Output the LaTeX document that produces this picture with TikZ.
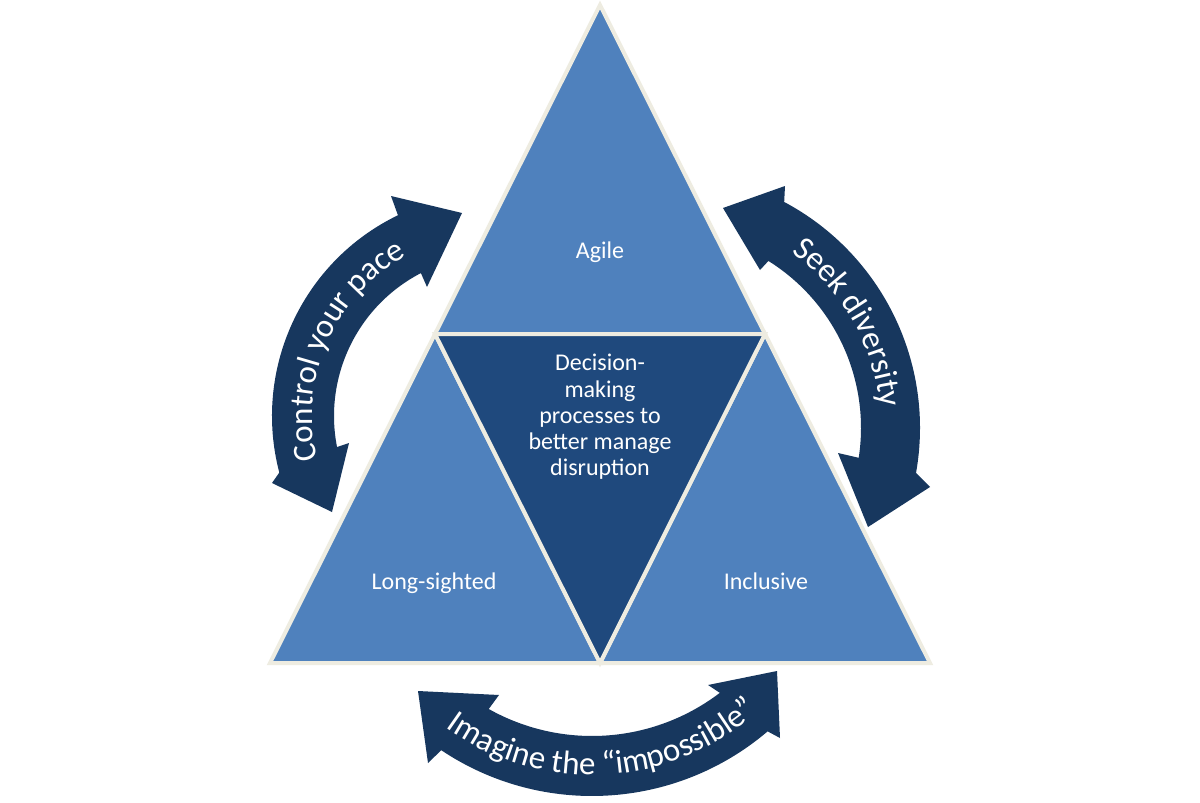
\documentclass[tikz,border=0pt]{standalone}
\usepackage{fontspec}
\setmainfont{Carlito}
\usetikzlibrary{decorations.text}
\definecolor{lightblue}{HTML}{4F81BD}
\definecolor{darkblue}{HTML}{1F497D}
\definecolor{arrowblue}{HTML}{17375E}
\definecolor{cream}{HTML}{EEECE1}
\newcommand\arrowfont{\fontsize{33}{33}\selectfont}
\begin{document}
\begin{tikzpicture}[x=1pt,y=-1pt,
  tri/.style={draw=cream, line width=4pt, line join=miter},
  lbl/.style={text=white, font=\fontsize{24}{26.3}\selectfont, align=center, inner sep=0pt},
  arr/.style={fill=arrowblue},
  arrtext/.style={decorate, decoration={text along path, text align=center, text color=white, text={|\arrowfont|#1}}}]
\useasboundingbox (0,0) rectangle (1200,803);
\fill[white] (0,0) rectangle (1200,803);
% triangle corners
\coordinate (A) at (600,5);
\coordinate (L) at (270,663);
\coordinate (R) at (930,663);
\coordinate (ML) at (435,334);
\coordinate (MR) at (765,334);
\coordinate (MB) at (600,663);
\filldraw[tri, fill=lightblue] (A) -- (ML) -- (MR) -- cycle;
\filldraw[tri, fill=lightblue] (ML) -- (L) -- (MB) -- cycle;
\filldraw[tri, fill=lightblue] (MR) -- (MB) -- (R) -- cycle;
\filldraw[tri, fill=darkblue] (ML) -- (MR) -- (MB) -- cycle;
% labels
\node[lbl, anchor=base] (agile) at (600,258) {Agile};
\node[lbl, anchor=base] (longs) at (434,589) {Long-sighted};
\node[lbl, anchor=base] (incl) at (766,589) {Inclusive};
\node[lbl] (core) at (600,417) {Decision-\\making\\processes to\\better manage\\disruption};
% left arrow
\fill[arr] (462,213) -- (391,196) -- ([shift={(495,416)}]244.2:223)
  arc[start angle=244.2, end angle=165.3, radius=223] -- (272,483) -- (332,512) -- (349,443)
  -- ([shift={(495,416)}]168.9:161) arc[start angle=168.9, end angle=242.6, radius=161] -- (427,287) -- cycle;
\path[arrtext={Control your pace}] ([shift={(495,416)}]153.7:183) arc[start angle=153.7, end angle=253.7, radius=183];
% right arrow
\fill[arr] (723,208) -- (785,186) -- ([shift={(664,428)}]-62:256)
  arc[start angle=-62, end angle=10.1, radius=256] -- (930,487) -- (868,527) -- (838,453)
  -- ([shift={(664,428)}]8.7:197) arc[start angle=8.7, end angle=-58, radius=197] -- (760,270) -- cycle;
\path[arrtext={Seek diversity}] ([shift={(664,428)}]-79.75:217) arc[start angle=-79.75, end angle=20.25, radius=217];
% bottom arrow
\fill[arr] (418,691) -- (428,763) -- ([shift={(592,525)}]123.8:271)
  arc[start angle=123.8, end angle=49.6, radius=271] -- (780,738) -- (777,671) -- (708,685)
  -- ([shift={(592,525)}]52.7:211) arc[start angle=52.7, end angle=119.3, radius=211] -- (499,695) -- cycle;
\path[arrtext={Imagine the “impossible”}] ([shift={(592,525)}]137.1:250) arc[start angle=137.1, end angle=37.1, radius=250];
\end{tikzpicture}
\end{document}
